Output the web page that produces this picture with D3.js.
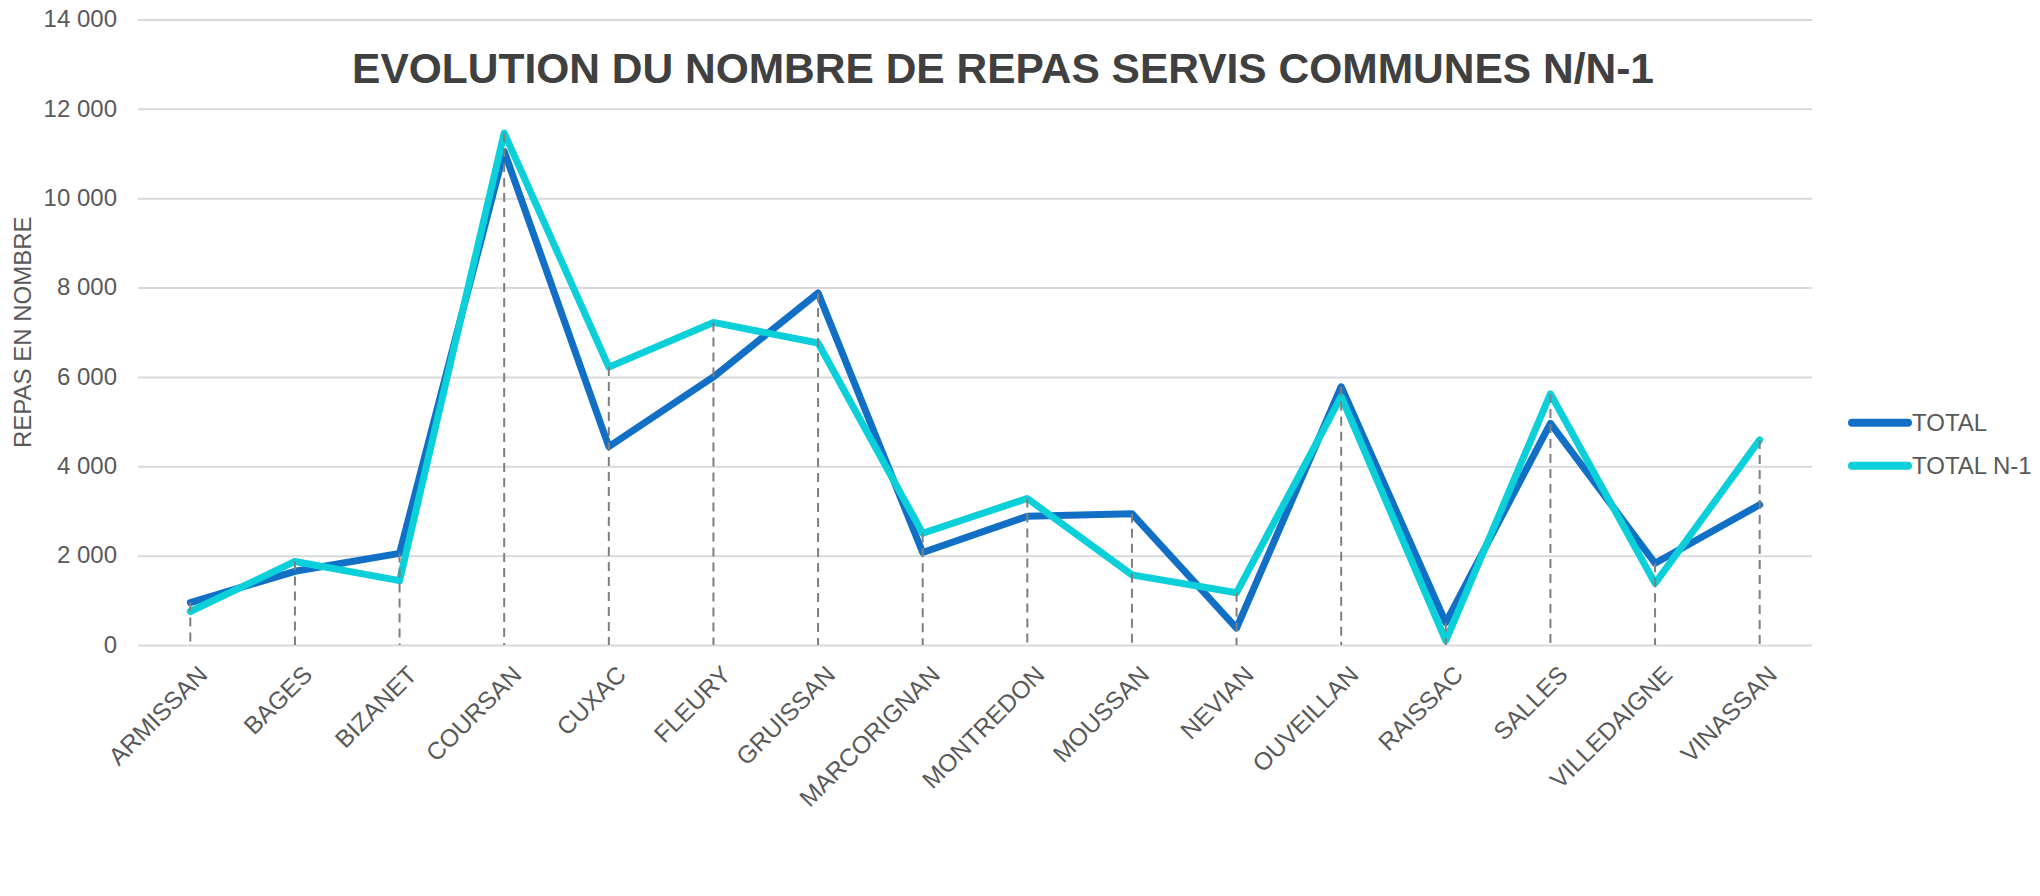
<!DOCTYPE html>
<html>
<head>
<meta charset="utf-8">
<script src="https://cdn.jsdelivr.net/npm/d3@7"></script>
<style>
  body { margin: 0; background: #fff; }
  svg { display: block; font-family: "Liberation Sans", Arial, sans-serif; }
</style>
</head>
<body>
<div id="chart"></div>
<script>
"use strict"

// Data.
const communes = ["ARMISSAN", "BAGES", "BIZANET", "COURSAN", "CUXAC", "FLEURY", "GRUISSAN",
    "MARCORIGNAN", "MONTREDON", "MOUSSAN", "NEVIAN", "OUVEILLAN", "RAISSAC", "SALLES",
    "VILLEDAIGNE", "VINASSAN"];
const total = [950, 1650, 2050, 11050, 4440, 6000, 7880, 2070, 2880, 2940, 380, 5780, 500, 4960, 1830, 3140];
const totalN1 = [750, 1870, 1440, 11460, 6220, 7220, 6760, 2500, 3280, 1570, 1170, 5560, 100, 5620, 1380, 4590];
const yTicks = [0, 2000, 4000, 6000, 8000, 10000, 12000, 14000];
const seriesNames = ["TOTAL", "TOTAL N-1"];

const W = 2040, H = 896;
const margin = {top: 19.5, right: 228, bottom: 251, left: 138};

const svg = d3.select("#chart").append("svg")
    .attr("width", W)
    .attr("height", H);

let x = d3.scalePoint().domain(communes)
    .range([margin.left, W - margin.right]).padding(0.5);
let y = d3.scaleLinear().domain([0, 14000])
    .range([H - margin.bottom, margin.top]);
let color = d3.scaleOrdinal().domain(seriesNames).range(["#1170c6", "#0bd0d9"]);

let fr = d3.formatLocale({decimal: ",", thousands: "\u00a0", grouping: [3], currency: ["", " €"]});

// Gridlines + y tick labels.
let yAxis = svg.append("g")
    .attr("transform", "translate(" + margin.left + ",0)")
    .call(d3.axisLeft(y).tickValues(yTicks).tickFormat(fr.format(",d"))
        .tickSize(-(W - margin.left - margin.right)).tickPadding(21));
yAxis.select(".domain").remove();
yAxis.selectAll(".tick line").attr("stroke", "#d9d9d9").attr("stroke-width", 2);
yAxis.selectAll(".tick text")
    .attr("fill", "#595959")
    .style("font-size", "24px")
    .attr("dy", "0.3em");

// Category labels, rotated.
let xAxis = svg.append("g")
    .attr("transform", "translate(0," + (H - margin.bottom) + ")")
    .call(d3.axisBottom(x).tickSize(0).tickPadding(0));
xAxis.select(".domain").remove();
xAxis.selectAll(".tick text")
    .attr("fill", "#595959")
    .style("font-size", "24.5px")
    .attr("text-anchor", "end")
    .attr("y", 0)
    .attr("dy", "0.71em")
    .attr("transform", "translate(6,19) rotate(-45)");

// Y axis title.
svg.append("text")
    .attr("transform", "translate(31," + ((margin.top + H - margin.bottom) / 2) + ") rotate(-90)")
    .attr("text-anchor", "middle")
    .attr("fill", "#595959")
    .style("font-size", "24px")
    .text("REPAS EN NOMBRE");

// Chart title.
svg.append("text")
    .attr("x", 1003)
    .attr("y", 83)
    .attr("text-anchor", "middle")
    .attr("fill", "#404040")
    .style("font-size", "42.5px")
    .style("font-weight", "bold")
    .text("EVOLUTION DU NOMBRE DE REPAS SERVIS COMMUNES N/N-1");

// Series lines.
let series = [
    {name: seriesNames[0], values: total},
    {name: seriesNames[1], values: totalN1}
];
let line = d3.line()
    .x(function(d, i) { return x(communes[i]); })
    .y(function(d) { return y(d); });

svg.selectAll(".series").data(series).enter().append("path")
    .attr("class", "series")
    .attr("d", function(d) { return line(d.values); })
    .attr("fill", "none")
    .attr("stroke", function(d) { return color(d.name); })
    .attr("stroke-width", 7)
    .attr("stroke-linejoin", "round")
    .attr("stroke-linecap", "round");

// Drop lines from the highest point of each commune to the axis.
svg.selectAll(".drop").data(communes).enter().append("line")
    .attr("class", "drop")
    .attr("x1", function(d) { return x(d); })
    .attr("x2", function(d) { return x(d); })
    .attr("y1", function(d, i) { return y(Math.max(total[i], totalN1[i])); })
    .attr("y2", y(0))
    .attr("stroke", "#7f7f7f")
    .attr("stroke-width", 2)
    .attr("stroke-dasharray", "9,6");

// Legend.
let legend = svg.selectAll(".legend").data(seriesNames).enter().append("g")
    .attr("class", "legend")
    .attr("transform", function(d, i) { return "translate(1852," + (422.7 + i * 43) + ")"; });
legend.append("line")
    .attr("x1", 0).attr("x2", 56)
    .attr("stroke", function(d) { return color(d); })
    .attr("stroke-width", 8)
    .attr("stroke-linecap", "round");
legend.append("text")
    .attr("x", 60)
    .attr("dy", "0.35em")
    .attr("fill", "#595959")
    .style("font-size", "24px")
    .text(function(d) { return d; });
</script>
</body>
</html>
